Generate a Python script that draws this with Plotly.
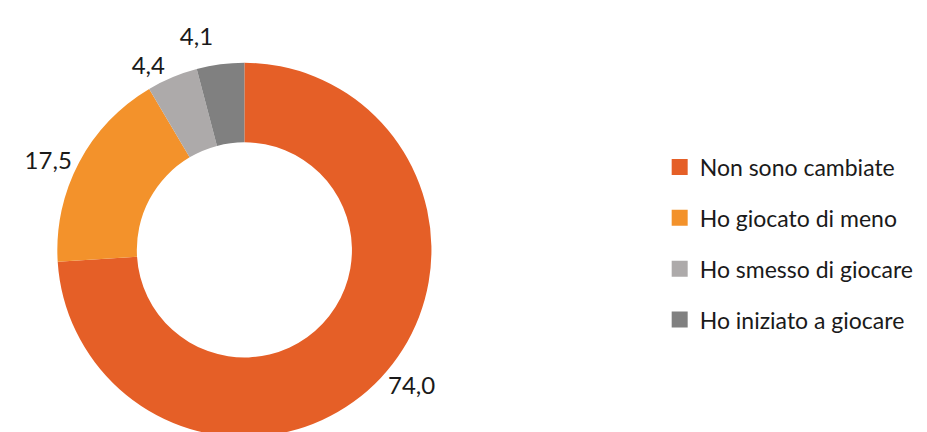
import plotly.graph_objects as go

labels = ["Non sono cambiate", "Ho giocato di meno", "Ho smesso di giocare", "Ho iniziato a giocare"]
values = [74.0, 17.5, 4.4, 4.1]
colors = ["#E55F27", "#F3922B", "#ADAAAA", "#808080"]

FONT = "Lato, 'Open Sans', sans-serif"

fig = go.Figure()

fig.add_trace(
    go.Pie(
        labels=labels,
        values=values,
        hole=0.575,
        sort=False,
        direction="clockwise",
        rotation=0,
        marker=dict(colors=colors, line=dict(width=0)),
        textposition="outside",
        texttemplate="%{value:.1f}",
        textfont=dict(size=24, color="#1a1a1a", family=FONT),
        domain=dict(x=[0, 0.51], y=[0.007, 0.873]),
        showlegend=False,
    )
)

# legend proxies so the entries can be spaced out like the original
for lab, col in zip(labels, colors):
    fig.add_trace(
        go.Scatter(
            x=[None],
            y=[None],
            mode="markers",
            name=lab,
            legendgroup=lab,
            marker=dict(symbol="square", size=17, color=col),
        )
    )

fig.update_layout(
    width=927,
    height=432,
    margin=dict(l=0, r=0, t=0, b=0, autoexpand=False),
    paper_bgcolor="white",
    plot_bgcolor="white",
    separators=",.",
    font=dict(family=FONT, color="#1a1a1a"),
    xaxis=dict(visible=False),
    yaxis=dict(visible=False),
    legend=dict(
        x=0.703,
        xanchor="left",
        y=0.455,
        yanchor="middle",
        font=dict(size=23, family=FONT, color="#1a1a1a"),
        tracegroupgap=18,
        itemsizing="trace",
    ),
)

# no leader lines on the outside labels in the original
hide_lines = (
    "var s=document.createElement('style');"
    "s.innerHTML='path.textline{display:none}';"
    "document.head.appendChild(s);"
)

fig.write_html("out.html", post_script=hide_lines)
